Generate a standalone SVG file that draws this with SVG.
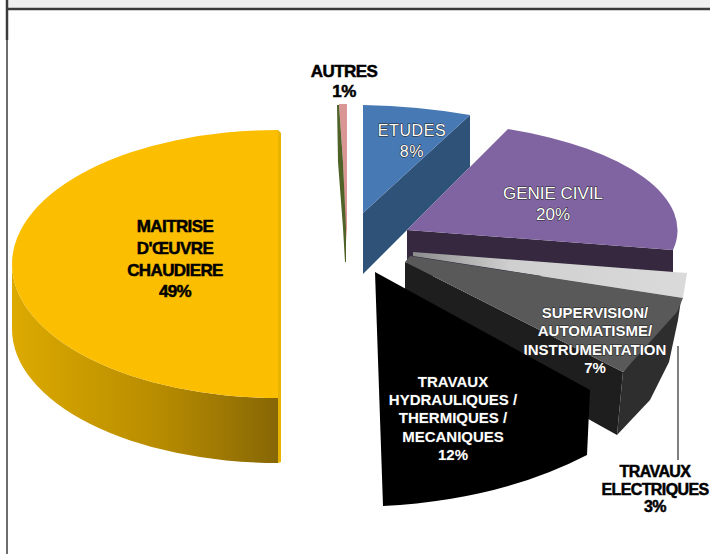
<svg xmlns="http://www.w3.org/2000/svg" width="710" height="554" viewBox="0 0 710 554">
  <defs>
    <linearGradient id="yside" x1="0" y1="0" x2="1" y2="0">
      <stop offset="0" stop-color="#dcaa00"/>
      <stop offset="0.55" stop-color="#b88c00"/>
      <stop offset="1" stop-color="#876706"/>
    </linearGradient>
    <linearGradient id="band" x1="0" y1="0" x2="1" y2="0">
      <stop offset="0" stop-color="#8c8c8c"/>
      <stop offset="0.35" stop-color="#cfcfcf"/>
      <stop offset="1" stop-color="#dadada"/>
    </linearGradient>
    <style>
      .w { fill:#ffffff; stroke:#222222; stroke-width:1; paint-order:stroke; font-family:"Liberation Sans", Arial, sans-serif; text-anchor:middle; }
      .k { fill:#000000; stroke:#000000; stroke-width:0.5; font-family:"Liberation Sans", Arial, sans-serif; font-weight:bold; text-anchor:middle; letter-spacing:-0.6px; }
      .b { font-weight:bold; }
    </style>
  </defs>

  <rect x="0" y="0" width="710" height="554" fill="#ffffff"/>
  <!-- frame -->
  <rect x="8" y="0" width="702" height="9" fill="#f0f0f0"/>
  <line x1="7" y1="9" x2="710" y2="9" stroke="#3c3c3c" stroke-width="2.5"/>
  <line x1="7" y1="0" x2="7" y2="554" stroke="#3c3c3c" stroke-width="1.5"/>
  <line x1="7" y1="0" x2="7" y2="40" stroke="#3c3c3c" stroke-width="2.5"/>

  <g id="maitrise">
    <path d="M12,264 A266,134 0 0 0 278,398 L278,463 A266,134 0 0 1 12,329 Z" fill="url(#yside)"/>
    <path d="M278,130 A266,134 0 0 0 278,398 Z" fill="#fbbe00"/>
    <polygon points="278,130 281,133 281,462 278,463" fill="#e9b400"/>
    <text class="k" font-size="17"><tspan x="175" y="232">MAITRISE</tspan><tspan x="175" y="254">D'ŒUVRE</tspan><tspan x="175" y="276">CHAUDIERE</tspan><tspan x="175" y="297">49%</tspan></text>
  </g>

  <g id="autres">
    <polygon points="339,104 347,104 347,228 346,242 343,162" fill="#d99694"/>
    <polygon points="337,105 339,105 343,162 346,228 346,262 345,262 343,228 338,162" fill="#4f6228"/>
    <text class="k" font-size="17"><tspan x="344" y="77">AUTRES</tspan><tspan x="344" y="97">1%</tspan></text>
  </g>

  <g id="etudes">
    <path d="M470,115 L470,167 L363,274 L363,213 Z" fill="#2f5279"/>
    <path d="M363,105 Q418,106 470,115 L363,213 Z" fill="#4779b5"/>
    <text class="w" font-size="16" letter-spacing="0.6"><tspan x="412" y="136">ETUDES</tspan><tspan x="412" y="157">8%</tspan></text>
  </g>

  <g id="genie-civil">
    <polygon points="407,230 673,250 673,276 407,276" fill="#35283f"/>
    <path d="M508,129 A270,109 0 0 1 673,250 L407,230 Z" fill="#8064a2"/>
    <text class="w" font-size="17"><tspan x="553" y="199">GENIE CIVIL</tspan><tspan x="553" y="220">20%</tspan></text>
  </g>

  <g id="travaux-electriques">
    <polygon points="405,262 623,372 617,435 590,420 405,290" fill="#1e1e1e"/>
    <polygon points="681,300 623,372 617,435 650,400 669,362 678,320" fill="#2e2e2e"/>
    <text class="k" font-size="16"><tspan x="655" y="477">TRAVAUX</tspan><tspan x="655" y="495">ELECTRIQUES</tspan><tspan x="655" y="512">3%</tspan></text>
  </g>

  <g id="supervision">
    <polygon points="413,252 687,273 683,298 413,256" fill="url(#band)"/>
    <polygon points="410,256 683,298 677,312 623,372 405,262" fill="#595959"/>
    <text class="w b" font-size="15"><tspan x="595" y="318">SUPERVISION/</tspan><tspan x="595" y="336">AUTOMATISME/</tspan><tspan x="595" y="355">INSTRUMENTATION</tspan><tspan x="595" y="373">7%</tspan></text>
  </g>

  <g id="travaux-hydrauliques">
    <path d="M375,272 L590,390 L587,455 Q500,500 383,506 Z" fill="#000000"/>
    <text class="w b" font-size="15"><tspan x="453" y="387">TRAVAUX</tspan><tspan x="453" y="405">HYDRAULIQUES /</tspan><tspan x="453" y="423">THERMIQUES /</tspan><tspan x="453" y="442">MECANIQUES</tspan><tspan x="453" y="460">12%</tspan></text>
  </g>

  <g id="connectors">
    <line x1="678" y1="346" x2="678" y2="460" stroke="#2a2a2a" stroke-width="1.2"/>
  </g>
</svg>
